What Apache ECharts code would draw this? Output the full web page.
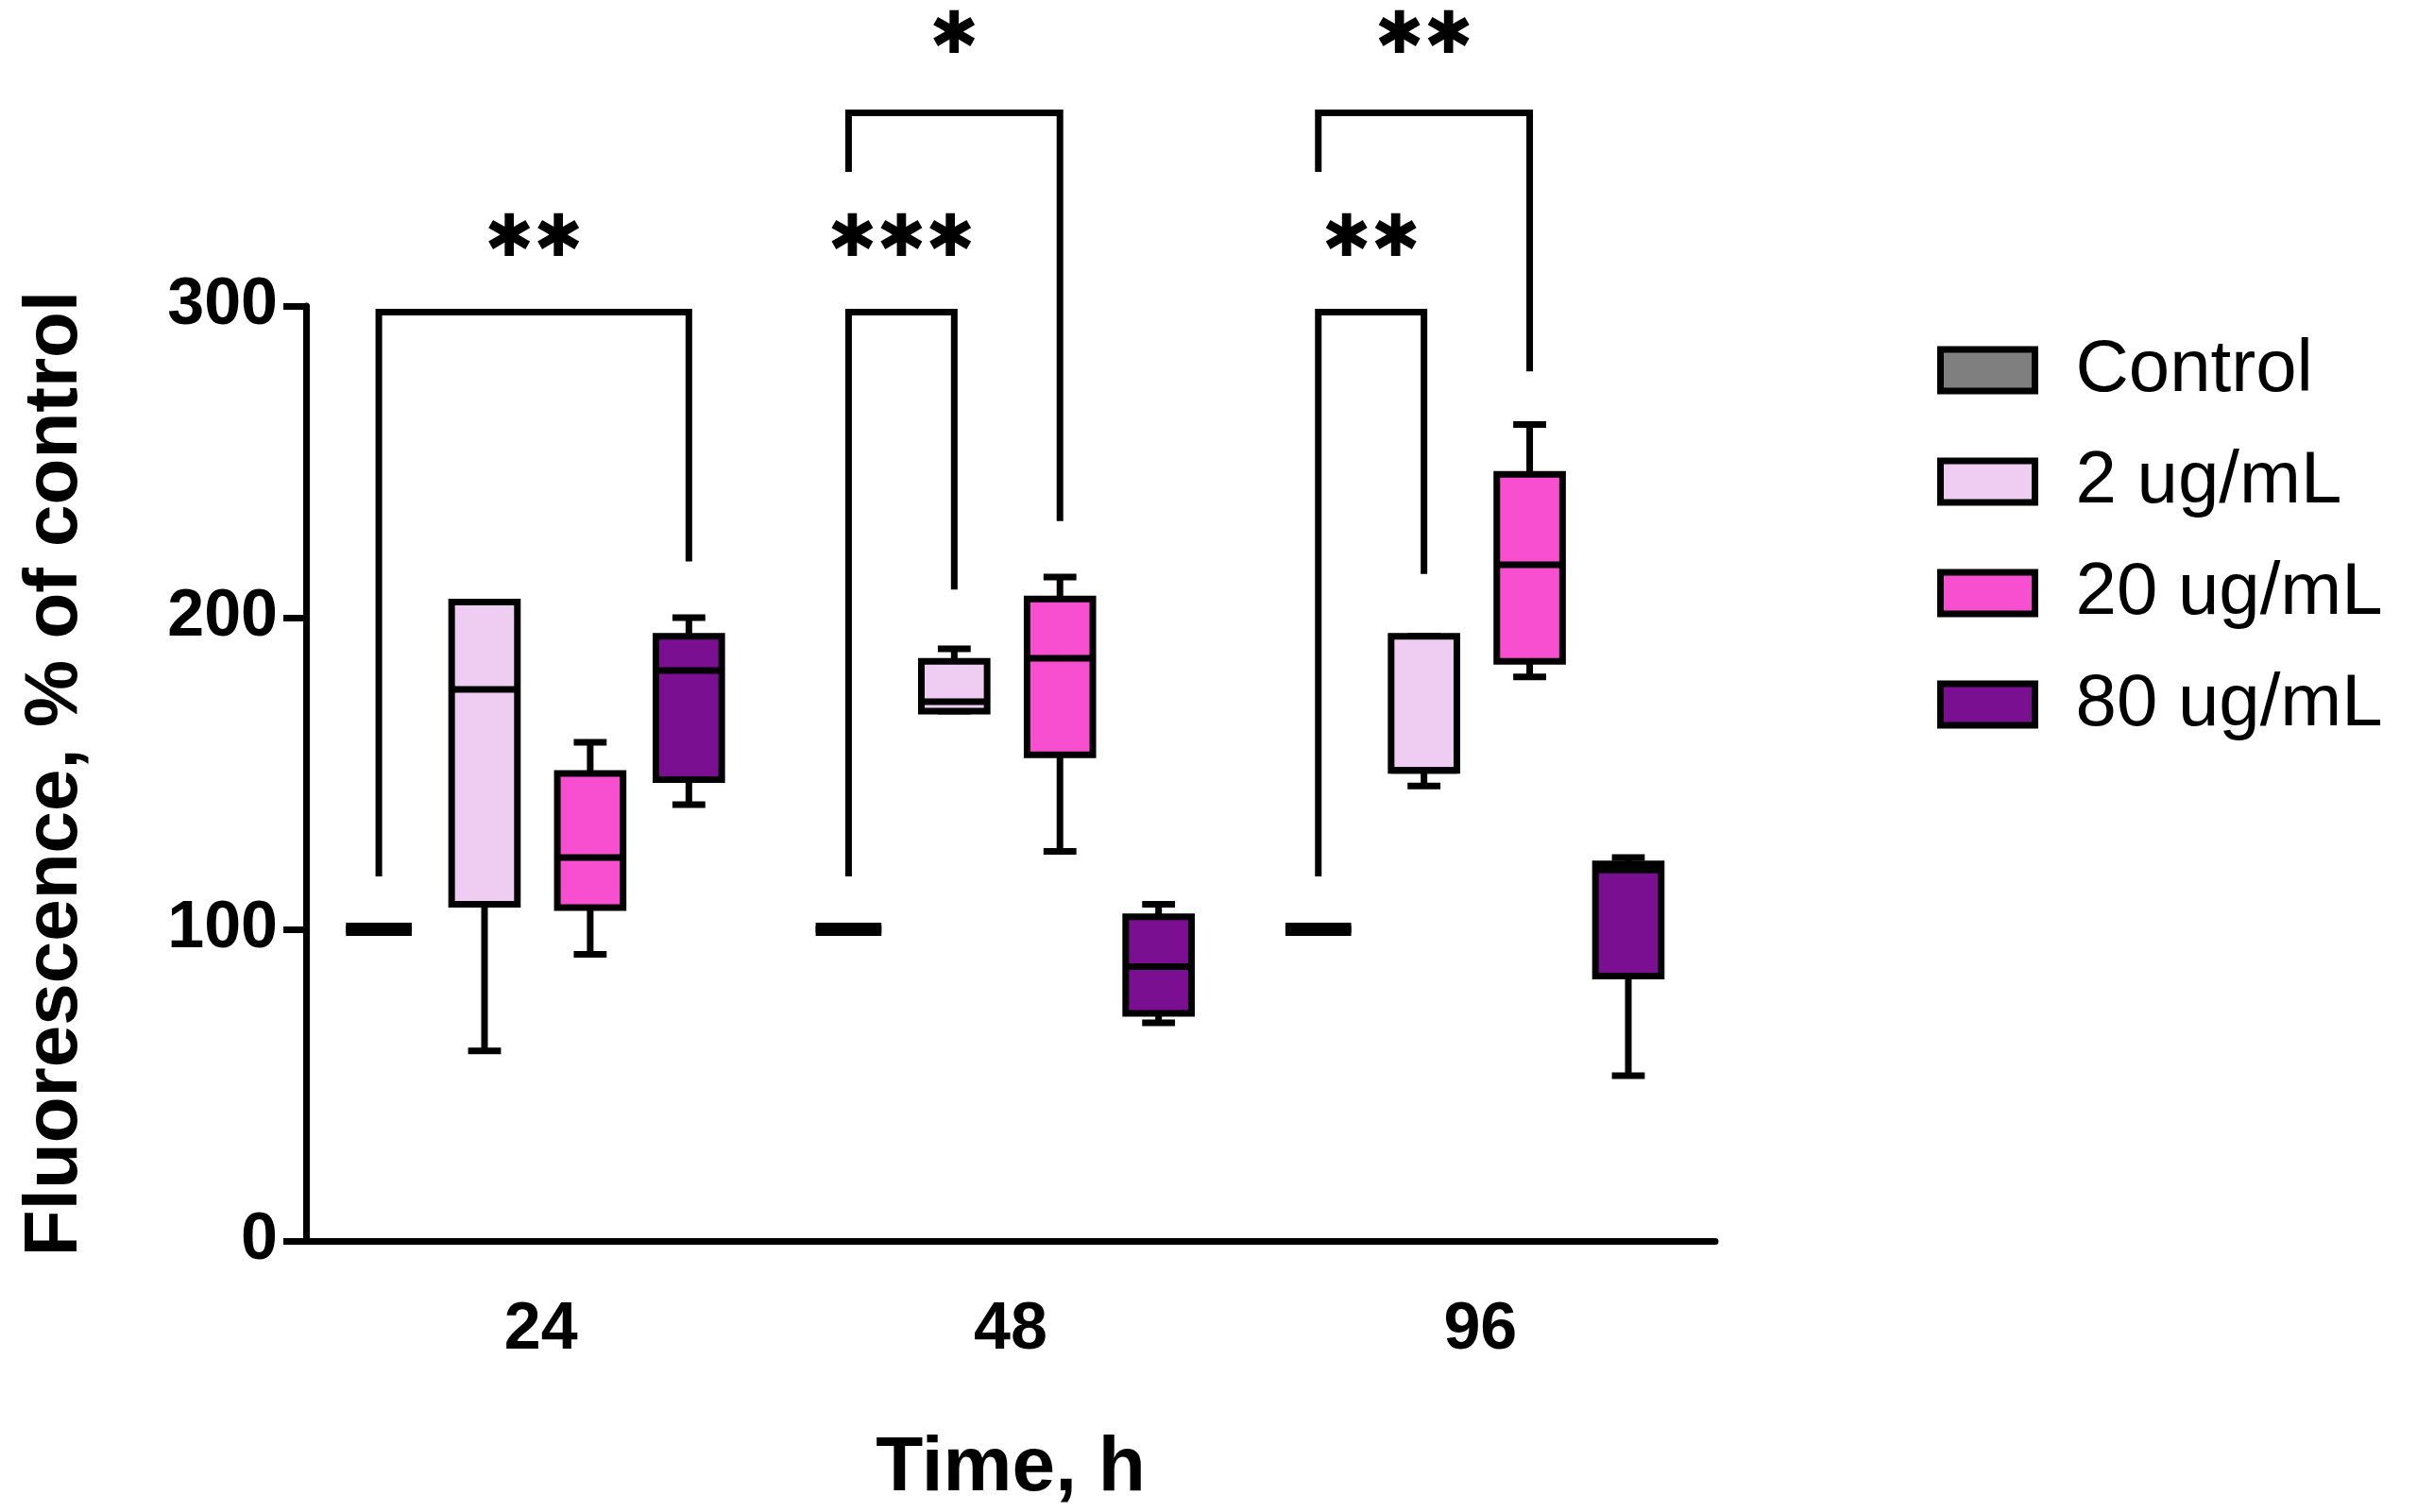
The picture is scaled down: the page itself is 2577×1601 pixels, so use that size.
<!DOCTYPE html>
<html><head><meta charset="utf-8">
<script src="https://cdn.jsdelivr.net/npm/echarts@6/dist/echarts.min.js"></script>
<style>html,body{margin:0;background:#fff}#c{width:2577px;height:1601px}</style>
</head><body><div id="c"></div>
<script>
const timeLabels = ['24','48','96'];
const seriesNames = ['Control','2 ug/mL','20 ug/mL','80 ug/mL'];
const colors = ['#7f7f7f','#efcdf2','#f74fd0','#7a0f92'];
// [min, q1, median, q3, max] per time point
const control = [[100,100,100,100,100],[100,100,100,100,100],[100,100,100,100,100]];
const ug2 = [[61,108,177,205,205],[170,170,173,186,190],[146,151,151,194,194]];
const ug20 = [[92,107,123,150,160],[125,156,187,206,213],[181,186,217,246,262]];
const ug80 = [[140,148,183,194,200],[70,73,88,104,108],[53,85,119,121,123]];
const allData = [control, ug2, ug20, ug80];
const offsets = [-0.345,-0.12,0.105,0.315];
// brackets: [group, fromSeries, toSeries, yFrom, yTop, yTo, label, labelY]
const brackets = [
 [0,0,3,117,298,218,'✱✱',321],
 [1,0,1,117,298,209,'✱✱✱',321],
 [1,0,2,343,362,231,'✱',386],
 [2,0,1,117,298,214,'✱✱',321],
 [2,0,2,343,362,279,'✱✱',386]
];
const chart = echarts.init(document.getElementById('c'));
const HW = 0.07;
const LW = 7;
function boxSeries(si){
  return {
    type:'custom', name:seriesNames[si], xAxisIndex:1, yAxisIndex:0,
    itemStyle:{color:colors[si], borderColor:'#000', borderWidth:LW},
    data: allData[si].map((d,g)=>[g, ...d]),
    renderItem:(params, api)=>{
      const g = api.value(0), x = g+0.5+offsets[si];
      const v = [1,2,3,4,5].map(i=>api.value(i));
      const L = api.coord([x-HW, v[3]]), R = api.coord([x+HW, v[1]]);
      const c = api.coord([x, v[2]]);
      const lo = api.coord([x, v[0]]), hi = api.coord([x, v[4]]);
      const cap = (R[0]-L[0])*0.25;
      const st = {stroke:'#000', lineWidth:LW};
      const ch = [
        {type:'line', shape:{x1:lo[0],y1:lo[1],x2:lo[0],y2:R[1]}, style:st},
        {type:'line', shape:{x1:hi[0],y1:hi[1],x2:hi[0],y2:L[1]}, style:st},
        {type:'line', shape:{x1:lo[0]-cap,y1:lo[1],x2:lo[0]+cap,y2:lo[1]}, style:st},
        {type:'line', shape:{x1:hi[0]-cap,y1:hi[1],x2:hi[0]+cap,y2:hi[1]}, style:st},
        {type:'rect', shape:{x:L[0],y:L[1],width:R[0]-L[0],height:R[1]-L[1]}, style:{fill:colors[si], stroke:'#000', lineWidth:LW}},
        {type:'line', shape:{x1:L[0],y1:c[1],x2:R[0],y2:c[1]}, style:{stroke:'#000', lineWidth: (v[0]===v[4]) ? 14 : LW}}
      ];
      return {type:'group', children:ch};
    }
  };
}
const series = [0,1,2,3].map(boxSeries);
series.push({
  type:'custom', xAxisIndex:1, yAxisIndex:0, clip:false, silent:true,
  data: brackets,
  renderItem:(params, api)=>{
    const b = brackets[params.dataIndex];
    const x1 = b[0]+0.5+offsets[b[1]], x2 = b[0]+0.5+offsets[b[2]];
    const p1 = api.coord([x1,b[3]]), p2 = api.coord([x1,b[4]]), p3 = api.coord([x2,b[4]]), p4 = api.coord([x2,b[5]]);
    const t = api.coord([(x1+x2)/2, b[7]]);
    return {type:'group', children:[
      {type:'polyline', shape:{points:[p1,p2,p3,p4]}, style:{stroke:'#000', lineWidth:LW, fill:null}},
      {type:'text', x:t[0], y:t[1], style:{text:b[6], font:'bold 62px "DejaVu Sans"', fill:'#000', align:'center', verticalAlign:'middle'}}
    ]};
  }
});
chart.setOption({
  animation:false,
  grid:{left:324, top:324, width:1492, height:991},
  legend:{orient:'vertical', left:2046, top:348, itemWidth:100, itemHeight:44, itemGap:40,
    data:seriesNames, icon:'rect',
    itemStyle:{borderWidth:7},
    textStyle:{fontSize:78, fontFamily:'Liberation Sans, Arial', color:'#000', padding:[0,0,0,38]}},
  xAxis:[
    {type:'category', data:timeLabels, axisLine:{lineStyle:{color:'#000', width:LW}},
     axisTick:{alignWithLabel:true, length:24, lineStyle:{width:LW}},
     axisLabel:{fontSize:70, fontWeight:'bold', color:'#000', margin:60, fontFamily:'Liberation Sans, Arial'},
     name:'Time, h', nameLocation:'middle', nameGap:200,
     nameTextStyle:{fontSize:82, fontWeight:'bold', color:'#000', fontFamily:'Liberation Sans, Arial'}},
    {type:'value', min:0, max:3, show:false}
  ],
  yAxis:{type:'value', min:0, max:300, interval:100, splitLine:{show:false},
    axisLine:{show:true, lineStyle:{color:'#000', width:LW}},
    axisTick:{show:true, length:24, lineStyle:{width:LW}},
    axisLabel:{fontSize:70, fontWeight:'bold', color:'#000', margin:30, fontFamily:'Liberation Sans, Arial'},
    name:'Fluorescence, % of control', nameLocation:'middle', nameGap:225,
    nameTextStyle:{fontSize:80, fontWeight:'bold', color:'#000', fontFamily:'Liberation Sans, Arial'}},
  series
});
</script></body></html>
